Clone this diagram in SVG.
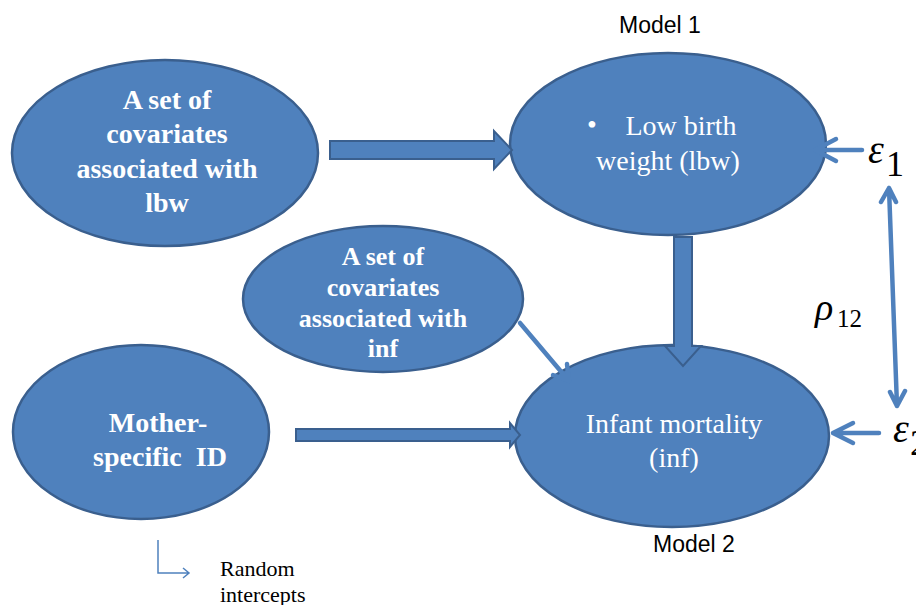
<svg xmlns="http://www.w3.org/2000/svg" width="916" height="605" viewBox="0 0 916 605">
<defs>
<style>
.node{fill:#4F81BD;stroke:#3A5F8E;stroke-width:2.5}
.bt{font-family:"Liberation Serif",serif;font-weight:bold;fill:#fff;text-anchor:middle}
.rt{font-family:"Liberation Serif",serif;fill:#fff;text-anchor:middle;font-size:28px}
.blk{fill:#4F81BD;stroke:#3A5F8E;stroke-width:2}
.ln{fill:none;stroke:#4F81BD;stroke-width:4.5;stroke-linecap:round;stroke-linejoin:round}
.lab{font-family:"Liberation Sans",sans-serif;font-size:23px;fill:#000;text-anchor:middle}
.math{font-family:"Liberation Serif",serif;font-style:italic;fill:#000}
.num{font-family:"Liberation Serif",serif;fill:#000}
</style>
</defs>
<rect width="916" height="605" fill="#fff"/>
<g id="n1">
<ellipse class="node" cx="165" cy="153" rx="153" ry="93"/>
<text class="bt" font-size="28" x="167" y="109">A set of</text>
<text class="bt" font-size="28" x="167" y="143">covariates</text>
<text class="bt" font-size="28" x="167" y="178">associated with</text>
<text class="bt" font-size="28" x="167" y="212">lbw</text>
</g>
<g id="n2">
<ellipse class="node" cx="668" cy="144" rx="158" ry="91"/>
<text class="rt" x="592" y="134" font-size="24">•</text>
<text class="rt" x="681" y="135">Low birth</text>
<text class="rt" x="668" y="170">weight (lbw)</text>
</g>
<g id="n3">
<ellipse class="node" cx="383" cy="299" rx="140" ry="73"/>
<text class="bt" font-size="26" x="383" y="265">A set of</text>
<text class="bt" font-size="26" x="383" y="296">covariates</text>
<text class="bt" font-size="26" x="383" y="327">associated with</text>
<text class="bt" font-size="26" x="383" y="357">inf</text>
</g>
<g id="n4">
<ellipse class="node" cx="141" cy="432" rx="128" ry="87"/>
<text class="bt" font-size="28" x="158" y="432">Mother-</text>
<text class="bt" font-size="28" x="160" y="466" xml:space="preserve">specific  ID</text>
</g>
<g id="n5">
<ellipse class="node" cx="672" cy="436" rx="157" ry="91"/>
<text class="rt" x="674" y="433">Infant mortality</text>
<text class="rt" x="674" y="467">(inf)</text>
</g>
<g id="connectors">
<polygon class="blk" points="330,141 494,141 494,131 512,150 494,169 494,159 330,159"/>
<polygon class="blk" points="674,237 692,237 692,346 701,346 683,366 665,346 674,346"/>
<polygon class="blk" points="296,429 510,429 510,423 520,435 510,447 510,441 296,441"/>
<path class="ln" d="M520,323 L569,381 M553,375 L569,381 L567,364"/>
<path class="ln" d="M862,150 L815,150 M836,139 L815,150 L836,161"/>
<path class="ln" d="M879,433 L833,433 M853,423 L833,433 L853,443"/>
<path class="ln" d="M889,188 L897,406 M881,202 L889,188 L896,202 M890,392 L897,406 M905,391 L897,406"/>
<path d="M158,540 L158,573 L189,573 M183,568 L189,573 L183,578" fill="none" stroke="#4F81BD" stroke-width="1.5"/>
</g>
<g id="labels">
<text class="lab" x="660" y="33">Model 1</text>
<text class="lab" x="694" y="552">Model 2</text>
<text class="math" x="868" y="163" font-size="40">ε</text>
<text class="num" x="886" y="176" font-size="36">1</text>
<text class="math" x="815" y="320" font-size="38">ρ</text>
<text class="num" x="837" y="327" font-size="25">12</text>
<text class="math" x="893" y="442" font-size="40">ε</text>
<text class="num" x="910" y="455" font-size="36">2</text>
<text class="num" x="220" y="576" font-size="22">Random</text>
<text class="num" x="220" y="602" font-size="22">intercepts</text>
</g>
</svg>
